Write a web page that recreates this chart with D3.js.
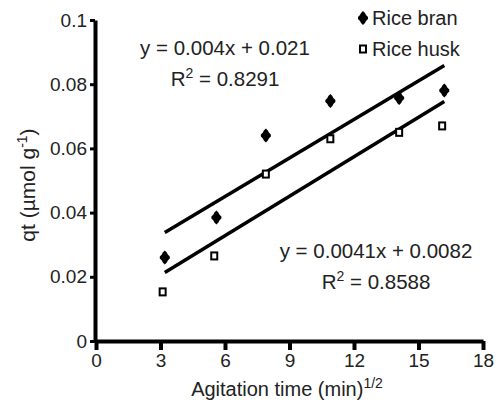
<!DOCTYPE html>
<html>
<head>
<meta charset="utf-8">
<script src="https://cdn.jsdelivr.net/npm/d3@7"></script>
<style>
  body { margin: 0; background: #fff; }
  svg { display: block; font-family: "Liberation Sans", Arial, sans-serif; }
</style>
</head>
<body>
<svg id="chart" width="498" height="407"></svg>
<script>
// data
const branX = [3.2, 5.6, 7.9, 10.9, 14.1, 16.2];
const branY = [0.026, 0.0385, 0.064, 0.0748, 0.0757, 0.078];
const huskX = [3.1, 5.5, 7.9, 10.9, 14.1, 16.1];
const huskY = [0.0153, 0.0265, 0.052, 0.063, 0.065, 0.067];
const fits = [
  { slope: 0.004, icpt: 0.021, eq: "y = 0.004x + 0.021", r2: "0.8291" },
  { slope: 0.0041, icpt: 0.0082, eq: "y = 0.0041x + 0.0082", r2: "0.8588" }
];
const fitRange = [3.2, 16.2];
const xTicks = [0, 3, 6, 9, 12, 15, 18];
const yTicks = [0, 0.02, 0.04, 0.06, 0.08, 0.1];
const yTickLabels = ["0", "0.02", "0.04", "0.06", "0.08", "0.1"];

const svg = d3.select("#chart");
const x = d3.scaleLinear().domain([0, 18]).range([96, 483]);
const y = d3.scaleLinear().domain([0, 0.1]).range([341, 20]);

// axes
const xAxis = svg.append("g")
    .attr("transform", "translate(0,341)")
    .call(d3.axisBottom(x).tickValues(xTicks).tickSize(9).tickPadding(4).tickSizeOuter(0));
xAxis.select(".domain").attr("stroke-width", 4);
xAxis.selectAll(".tick line").attr("stroke-width", 4);
xAxis.selectAll(".tick text").attr("font-size", 19).attr("fill", "#222");

const yAxis = svg.append("g")
    .attr("transform", "translate(95,0)")
    .call(d3.axisLeft(y).tickValues(yTicks).tickFormat((d, i) => yTickLabels[i])
        .tickSize(5).tickPadding(3).tickSizeOuter(0));
yAxis.select(".domain").attr("stroke-width", 4);
yAxis.selectAll(".tick line").attr("stroke-width", 3);
yAxis.selectAll(".tick text").attr("font-size", 19).attr("fill", "#222");

// axis titles
const xt = svg.append("text")
    .attr("x", 287).attr("y", 396)
    .attr("text-anchor", "middle")
    .attr("font-size", 20).attr("fill", "#222");
xt.append("tspan").text("Agitation time (min)");
xt.append("tspan").attr("dy", -8).attr("font-size", 14).text("1/2");

const yt = svg.append("text")
    .attr("transform", "translate(35,185) rotate(-90)")
    .attr("text-anchor", "middle")
    .attr("font-size", 21).attr("fill", "#222");
yt.append("tspan").text("qt (\u00b5mol g");
yt.append("tspan").attr("dy", -8).attr("font-size", 14).text("-1");
yt.append("tspan").attr("dy", 8).text(")");

// trend lines
svg.selectAll(".fit")
  .data(fits)
  .join("line")
    .attr("class", "fit")
    .attr("x1", x(fitRange[0]))
    .attr("x2", x(fitRange[1]))
    .attr("y1", d => y(d.slope * fitRange[0] + d.icpt))
    .attr("y2", d => y(d.slope * fitRange[1] + d.icpt))
    .attr("stroke", "#000")
    .attr("stroke-width", 3.5);

// markers
const branShape = "M0,-7L2,-5L3,-3L5,-1L5,1L3,3L2,5L0,7L-2,5L-3,3L-5,1L-5,-1L-3,-3L-2,-5Z";
function drawBran(g, px, py) {
  g.append("path").attr("d", branShape)
    .attr("transform", `translate(${px},${py})`)
    .attr("fill", "#000");
}
function drawHusk(g, px, py) {
  g.append("rect")
    .attr("x", px - 3).attr("y", py - 3.5)
    .attr("width", 6).attr("height", 7)
    .attr("fill", "#fff").attr("stroke", "#000").attr("stroke-width", 2);
}

const pts = svg.append("g");
branX.forEach((v, i) => drawBran(pts, x(v), y(branY[i])));
huskX.forEach((v, i) => drawHusk(pts, x(v), y(huskY[i])));

// legend
const lg = svg.append("g");
drawBran(lg, 363, 18);
drawHusk(lg, 363, 49);
lg.append("text").attr("x", 372).attr("y", 25).attr("font-size", 20).attr("fill", "#222").text("Rice bran");
lg.append("text").attr("x", 372).attr("y", 56).attr("font-size", 20).attr("fill", "#222").text("Rice husk");

// equations
const eqPos = [[225, 55, 86], [376, 258, 289]];
fits.forEach((f, i) => {
  const [cx, y1, y2] = eqPos[i];
  svg.append("text").attr("x", cx).attr("y", y1).attr("text-anchor", "middle")
    .attr("font-size", 20.5).attr("fill", "#222").text(f.eq);
  const t = svg.append("text").attr("x", cx).attr("y", y2).attr("text-anchor", "middle")
    .attr("font-size", 20.5).attr("fill", "#222");
  t.append("tspan").text("R");
  t.append("tspan").attr("dy", -8).attr("font-size", 14).text("2");
  t.append("tspan").attr("dy", 8).text(" = " + f.r2);
});
</script>
</body>
</html>
